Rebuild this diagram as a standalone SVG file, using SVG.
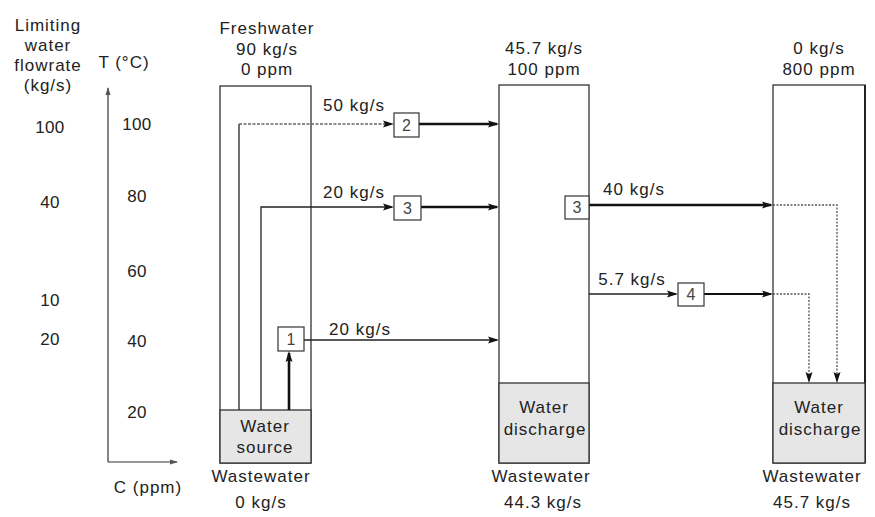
<svg xmlns="http://www.w3.org/2000/svg" width="875" height="517" viewBox="0 0 875 517">
<style>
text{font-family:"Liberation Sans",Arial,sans-serif;font-size:17px;fill:#222;text-anchor:middle;letter-spacing:1px}
.num{letter-spacing:0.3px}
.lbl{font-size:16px;fill:#444;letter-spacing:0}
.box{fill:none;stroke:#333;stroke-width:1.3}
.fill{fill:#e6e6e6;stroke:#333;stroke-width:1.3}
.sb{fill:#fff;stroke:#333;stroke-width:1.2}
.thin{fill:none;stroke:#222;stroke-width:1.3}
.thick{fill:none;stroke:#111;stroke-width:2.6}
.mid{fill:none;stroke:#111;stroke-width:2}
.dash{fill:none;stroke:#666;stroke-width:1.3;stroke-dasharray:3 1.5}
.dot{fill:none;stroke:#555;stroke-width:1.3;stroke-dasharray:2 1.5}
.axis{fill:none;stroke:#333;stroke-width:1.2}
</style>
<defs>
<marker id="ah" markerUnits="userSpaceOnUse" markerWidth="11" markerHeight="8" refX="9" refY="4" orient="auto">
<path d="M0,0.5 L11,4 L0,7.5 L2,4 z" fill="#111"/>
</marker>
<marker id="ahs" markerUnits="userSpaceOnUse" markerWidth="8" markerHeight="6" refX="7" refY="3" orient="auto">
<path d="M0,0.5 L8,3 L0,5.5 z" fill="#555"/>
</marker>
</defs>

<g id="axis-labels">
<text x="48" y="31">Limiting</text>
<text x="48" y="51">water</text>
<text x="48" y="71">flowrate</text>
<text x="48" y="91">(kg/s)</text>
<text class="num" x="50" y="133">100</text>
<text class="num" x="50" y="208">40</text>
<text class="num" x="50" y="306">10</text>
<text class="num" x="50" y="345">20</text>
<text x="124" y="68">T (°C)</text>
<text class="num" x="137" y="130">100</text>
<text class="num" x="137" y="202">80</text>
<text class="num" x="137" y="277">60</text>
<text class="num" x="137" y="347">40</text>
<text class="num" x="137" y="418">20</text>
<text x="148" y="493">C (ppm)</text>
</g>

<g id="axes">
<path class="axis" d="M108,462 V88" marker-end="url(#ahs)"/>
<path class="axis" d="M108,462 H177" marker-end="url(#ahs)"/>
</g>

<g id="source-column">
<text x="267" y="34">Freshwater</text>
<text x="267" y="55">90 kg/s</text>
<text x="267" y="75">0 ppm</text>
<rect class="box" x="220" y="86" width="91" height="377"/>
<rect class="fill" x="220" y="410" width="91" height="53"/>
<text x="265" y="432">Water</text>
<text x="265" y="453">source</text>
<text x="261" y="482">Wastewater</text>
<text x="261" y="508">0 kg/s</text>
</g>

<g id="mid-column">
<text x="544" y="54">45.7 kg/s</text>
<text x="544" y="75">100 ppm</text>
<rect class="box" x="499" y="85" width="90" height="378"/>
<rect class="fill" x="499" y="383" width="90" height="80"/>
<text x="544" y="413">Water</text>
<text x="545" y="435">discharge</text>
<text x="541" y="482">Wastewater</text>
<text x="543" y="508">44.3 kg/s</text>
</g>

<g id="right-column">
<text x="819" y="54">0 kg/s</text>
<text x="819" y="75">800 ppm</text>
<rect class="box" x="773" y="85" width="92" height="378"/>
<line x1="865" y1="85" x2="865" y2="463" stroke="#222" stroke-width="2"/>
<rect class="fill" x="773" y="383" width="92" height="80"/>
<text x="819" y="413">Water</text>
<text x="820" y="435">discharge</text>
<text x="812" y="482">Wastewater</text>
<text x="812" y="508">45.7 kg/s</text>
</g>

<g id="connectors">
<path class="thin" d="M239,410 V124"/>
<path class="dash" d="M239,124 H392" marker-end="url(#ah)"/>
<path class="thin" d="M261,410 V207 H392" marker-end="url(#ah)"/>
<path class="thick" d="M289,410 V353" marker-end="url(#ah)"/>
<path class="thin" d="M304,340 H497" marker-end="url(#ah)"/>
<path class="thick" d="M419,124 H497" marker-end="url(#ah)"/>
<path class="thick" d="M421,207 H497" marker-end="url(#ah)"/>
<path class="thick" d="M589,205 H771" marker-end="url(#ah)"/>
<path class="thin" d="M589,294 H676" marker-end="url(#ah)"/>
<path class="mid" d="M704,294 H771" marker-end="url(#ah)"/>
<path class="dot" d="M773,205 H837 V381" marker-end="url(#ah)"/>
<path class="dot" d="M773,294 H809 V381" marker-end="url(#ah)"/>
<text x="354" y="111">50 kg/s</text>
<text x="354" y="198">20 kg/s</text>
<text x="360" y="335">20 kg/s</text>
<text x="634" y="195">40 kg/s</text>
<text x="632" y="285">5.7 kg/s</text>
</g>

<g id="unit-1">
<rect class="sb" x="278" y="327" width="26" height="24"/>
<text class="lbl" x="291" y="345">1</text>
</g>
<g id="unit-2">
<rect class="sb" x="394" y="113" width="25" height="24"/>
<text class="lbl" x="406.5" y="131">2</text>
</g>
<g id="unit-3">
<rect class="sb" x="394" y="196" width="27" height="24"/>
<text class="lbl" x="407.5" y="214">3</text>
</g>
<g id="unit-3b">
<rect class="sb" x="565" y="196" width="24" height="23"/>
<text class="lbl" x="577" y="213">3</text>
</g>
<g id="unit-4">
<rect class="sb" x="678" y="283" width="26" height="23"/>
<text class="lbl" x="691" y="300">4</text>
</g>
</svg>
